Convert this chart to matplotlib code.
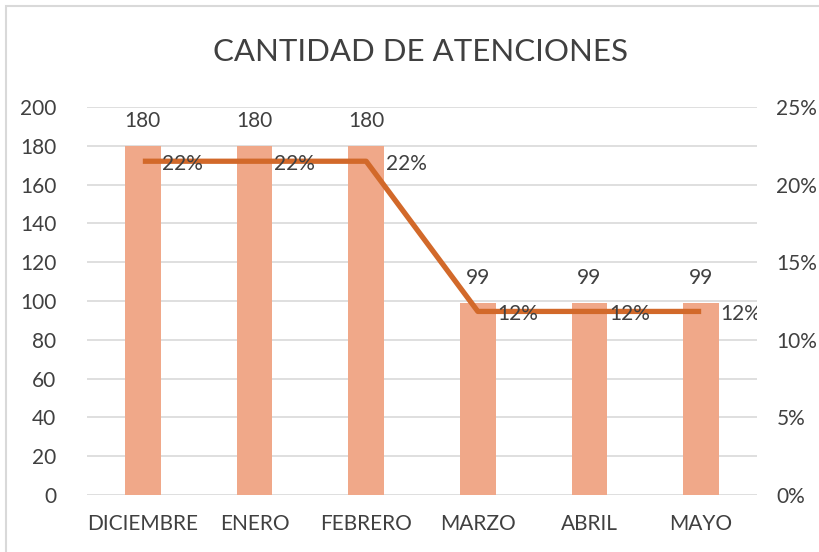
import matplotlib.pyplot as plt
from matplotlib.patches import Rectangle
from matplotlib.ticker import FuncFormatter

# datos
meses = ['DICIEMBRE', 'ENERO', 'FEBRERO', 'MARZO', 'ABRIL', 'MAYO']
atenciones = [180, 180, 180, 99, 99, 99]
total = sum(atenciones)
porcentajes = [a / total for a in atenciones]

BAR_COLOR = '#F0A889'
LINE_COLOR = '#D2692A'
GRID_COLOR = '#D9D9D9'
TEXT_COLOR = '#404040'
plt.rcParams['font.family'] = ['Lato', 'DejaVu Sans']

fig = plt.figure(figsize=(8.2, 5.52), dpi=100)
fig.patches.append(Rectangle((6 / 820, -0.1), 1.2, (552 - 6) / 552 + 0.1,
                             transform=fig.transFigure, fill=False,
                             edgecolor=GRID_COLOR, linewidth=1.5))

ax = fig.add_axes([87 / 820, 1 - 495 / 552, 670 / 820, 388 / 552])
x = list(range(len(meses)))
ax.bar(x, atenciones, width=0.32, color=BAR_COLOR, zorder=2)
ax.set_xlim(-0.5, len(meses) - 0.5)
ax.set_ylim(0, 200)
ax.set_yticks(range(0, 201, 20))
ax.set_xticks(x)
ax.set_xticklabels(meses)
ax.grid(axis='y', color=GRID_COLOR, linewidth=1.2, zorder=0)
ax.set_axisbelow(True)
for s in ax.spines.values():
    s.set_visible(False)
ax.tick_params(length=0, labelsize=15, labelcolor=TEXT_COLOR)
ax.tick_params(axis='x', pad=14)
ax.tick_params(axis='y', pad=22)

for xi, v in zip(x, atenciones):
    ax.annotate(str(v), (xi, v), xytext=(0, 18), textcoords='offset points',
                ha='center', va='center', fontsize=15, color=TEXT_COLOR)

ax2 = ax.twinx()
ax2.set_ylim(0, 0.25)
ax2.set_yticks([0, 0.05, 0.10, 0.15, 0.20, 0.25])
ax2.yaxis.set_major_formatter(FuncFormatter(lambda v, p: f'{v:.0%}'))
for s in ax2.spines.values():
    s.set_visible(False)
ax2.tick_params(length=0, labelsize=15, labelcolor=TEXT_COLOR, pad=14)
ax2.plot(x, porcentajes, color=LINE_COLOR, linewidth=3.8, zorder=3,
         solid_capstyle='butt')
for xi, p in zip(x, porcentajes):
    ax2.annotate(f'{p:.0%}', (xi, p), xytext=(14, -2), textcoords='offset points',
                 ha='left', va='center', fontsize=15, color=TEXT_COLOR,
                 annotation_clip=False, clip_on=True, zorder=4)

fig.text(0.513, 1 - 52 / 552, 'CANTIDAD DE ATENCIONES', ha='center',
         va='center', fontsize=22.5, color=TEXT_COLOR)

fig.savefig('out.png', dpi=100)
